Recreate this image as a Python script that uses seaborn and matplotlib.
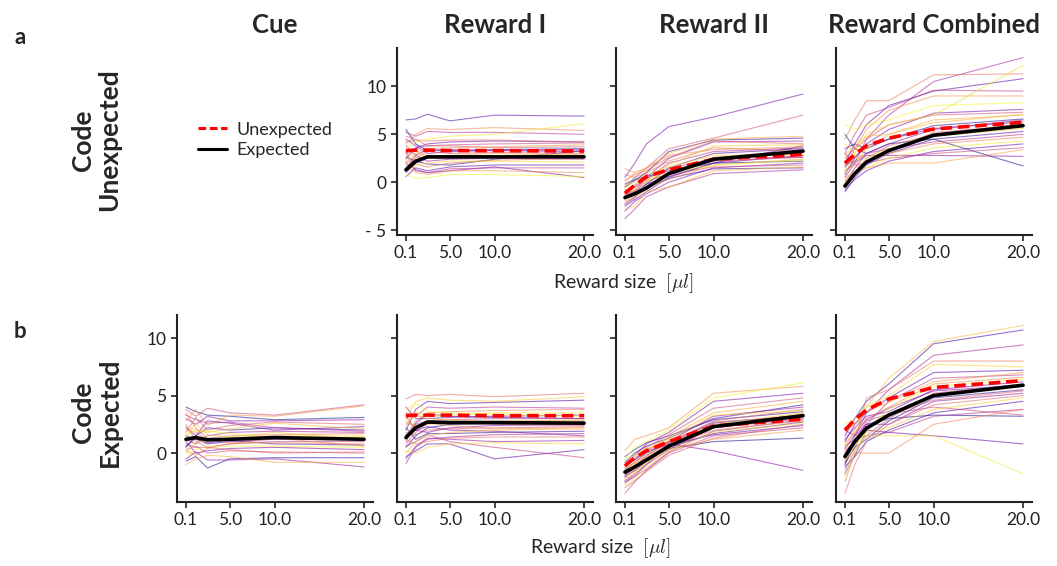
import numpy as np
import pandas as pd
import matplotlib
matplotlib.use("Agg")
import matplotlib.pyplot as plt
import seaborn as sns
from matplotlib.lines import Line2D

sns.set_style("ticks")
plt.rcParams['font.family'] = ['Lato', 'DejaVu Sans']
plt.rcParams['mathtext.fontset'] = 'cm'

# ---------------- data ----------------
reward_sizes = [0.1, 1.2, 2.5, 5.0, 10.0, 20.0]
xtick_vals = [0.1, 5.0, 10.0, 20.0]
xtick_labels = ['0.1', '5.0', '10.0', '20.0']
col_titles = ['Cue', 'Reward I', 'Reward II', 'Reward Combined']
row_titles = ['Code\nUnexpected', 'Code\nExpected']
panel_letters = ['a', 'b']
legend_labels = ['Unexpected', 'Expected']

# Row a (Code Unexpected) single-cell curves
a_reward1 = [
    [6.5, 6.6, 7.1, 6.4, 7.0, 6.9], [5.2, 4.8, 5.3, 5.2, 5.2, 5.0],
    [4.0, 5.0, 5.6, 5.5, 5.7, 5.4], [3.5, 4.2, 4.5, 4.8, 5.0, 6.1],
    [2.5, 3.6, 4.0, 4.2, 4.3, 4.2], [3.0, 3.5, 3.8, 3.9, 4.0, 4.1],
    [2.0, 3.0, 3.5, 3.6, 3.7, 3.9], [5.5, 4.0, 3.3, 3.3, 3.4, 3.5],
    [4.5, 3.8, 3.0, 3.2, 3.3, 3.2], [1.5, 2.5, 3.2, 3.0, 3.1, 3.0],
    [2.8, 3.0, 2.8, 2.8, 2.7, 2.9], [1.0, 2.0, 2.5, 2.5, 2.6, 2.6],
    [3.8, 2.8, 2.2, 2.4, 2.5, 2.4], [2.2, 1.9, 1.6, 2.0, 2.3, 2.5],
    [1.2, 1.8, 2.0, 2.2, 2.2, 2.1], [0.6, 1.5, 1.2, 1.6, 1.8, 1.8],
    [3.2, 1.2, 1.0, 1.4, 1.5, 1.5], [1.8, 1.0, 0.8, 1.2, 1.2, 1.0],
    [0.8, 0.4, 0.5, 0.8, 0.8, 0.6], [2.0, 1.3, 1.0, 1.2, 1.6, 0.5],
    [4.8, 4.5, 3.8, 3.8, 3.6, 3.7], [3.3, 3.3, 2.6, 2.8, 3.0, 2.8],
    [2.6, 2.2, 1.9, 1.8, 2.4, 3.3], [1.4, 2.8, 3.4, 3.4, 3.3, 3.4],
    [4.2, 4.4, 4.3, 4.4, 4.4, 4.2], [2.4, 2.6, 2.5, 2.6, 2.7, 2.7],
]
a_reward2 = [
    [0.5, 2.0, 4.0, 5.8, 6.8, 9.2], [-0.5, 0.5, 1.5, 3.5, 4.6, 7.0],
    [0.0, 1.0, 1.4, 3.0, 4.5, 4.8], [-0.5, 0.2, 1.0, 3.2, 4.4, 4.6],
    [-1.0, -0.3, 0.5, 2.5, 4.2, 4.3], [0.2, 0.8, 1.2, 2.6, 4.3, 4.0],
    [-1.2, -0.8, 0.0, 1.8, 3.8, 3.9], [-1.5, -1.0, -0.2, 1.5, 3.0, 3.5],
    [-0.8, -0.5, 0.3, 2.0, 3.2, 3.6], [-2.0, -1.5, -0.8, 1.0, 2.6, 3.3],
    [-1.8, -1.2, -0.5, 0.8, 2.4, 3.0], [-2.5, -1.8, -1.0, 0.5, 2.0, 2.8],
    [-1.3, -0.8, 0.0, 1.0, 2.2, 2.6], [-2.2, -1.5, -0.6, 0.3, 1.8, 2.4],
    [-0.2, 0.3, 0.6, 1.2, 2.0, 2.2], [-3.0, -2.0, -1.2, 0.0, 1.5, 2.0],
    [-1.0, -0.5, 0.2, 0.8, 1.6, 1.8], [-2.8, -2.5, -1.0, -0.5, 1.2, 1.6],
    [-1.6, -1.2, -0.6, 0.4, 1.4, 1.5], [-3.8, -2.8, -1.5, -0.5, 0.9, 1.3],
    [0.8, 0.5, 1.0, 2.2, 3.6, 3.2], [-0.3, 0.0, 0.8, 1.6, 2.8, 2.9],
    [-2.3, -1.6, -0.2, 0.6, 2.0, 3.8], [-1.4, -0.9, 0.4, 1.4, 2.5, 2.6],
    [1.4, 1.0, 1.5, 2.8, 3.4, 3.7], [-0.6, -0.2, 0.2, 1.0, 1.8, 2.3],
]
a_combined = [
    [0.5, 2.0, 4.5, 7.0, 10.5, 13.0], [4.5, 6.5, 8.5, 8.5, 11.2, 11.3],
    [1.0, 3.0, 5.0, 6.0, 7.0, 12.2], [2.0, 4.0, 6.0, 8.0, 9.5, 10.8],
    [3.0, 5.0, 7.0, 7.8, 9.6, 9.5], [1.5, 3.5, 5.5, 7.5, 9.0, 9.0],
    [6.0, 5.5, 6.0, 6.5, 8.0, 8.3], [0.8, 2.5, 4.0, 5.5, 7.2, 7.6],
    [2.5, 3.5, 4.5, 6.0, 7.0, 7.3], [1.0, 2.0, 3.5, 5.0, 6.5, 7.0],
    [3.5, 4.0, 3.5, 4.5, 5.9, 6.6], [-0.5, 1.5, 3.0, 4.0, 5.5, 6.5],
    [0.2, 1.0, 2.5, 3.8, 5.0, 6.1], [4.0, 3.0, 2.5, 3.5, 4.8, 5.6],
    [-1.0, 0.5, 1.8, 3.0, 4.5, 5.3], [1.8, 2.2, 3.0, 3.5, 4.2, 5.0],
    [0.0, 1.5, 2.0, 3.0, 4.0, 4.7], [2.2, 2.8, 1.5, 2.5, 3.6, 4.3],
    [-0.8, 0.3, 1.2, 2.2, 3.2, 4.0], [3.0, 1.8, 2.0, 2.5, 3.0, 3.6],
    [0.5, 1.0, 1.5, 2.0, 2.0, 3.4], [5.0, 3.5, 3.0, 4.0, 4.5, 1.7],
    [1.2, 2.0, 2.8, 2.8, 2.8, 2.7], [-0.3, 0.8, 2.2, 3.2, 5.2, 5.9],
    [2.8, 3.8, 4.8, 5.0, 6.2, 7.1], [1.6, 2.6, 3.8, 4.5, 5.6, 6.3],
]
# Row b (Code Expected) single-cell curves
b_cue = [
    [3.8, 3.2, 3.9, 3.5, 3.3, 4.2], [2.8, 3.8, 2.4, 3.3, 3.2, 4.1],
    [4.0, 3.6, 3.3, 3.2, 2.9, 3.1], [3.0, 2.5, 3.2, 2.8, 2.8, 2.9],
    [1.8, 3.1, 2.0, 2.4, 2.7, 2.5], [2.3, 2.0, 1.8, 2.1, 2.6, 2.1],
    [0.5, 1.5, 2.2, 2.0, 2.2, 2.0], [1.2, 0.8, 1.5, 1.8, 1.9, 1.8],
    [3.5, 2.2, 1.3, 1.5, 1.6, 1.7], [0.0, 1.0, 1.0, 1.3, 1.5, 1.5],
    [1.5, 1.2, 0.8, 1.0, 1.2, 1.2], [0.8, 0.5, 0.5, 0.8, 1.0, 1.0],
    [2.0, 1.8, 1.2, 0.9, 0.9, 0.8], [-0.2, 0.3, 0.6, 0.6, 0.6, 0.5],
    [1.0, 0.0, 0.2, 0.4, 0.5, 0.3], [0.3, 0.6, 0.0, 0.2, 0.1, 0.0],
    [-1.0, -0.5, -0.2, -0.3, -0.8, -0.8], [-0.7, -0.3, -1.3, -0.5, -0.4, -0.4],
    [-0.5, 0.1, -0.6, -0.6, -0.5, -1.2], [2.5, 1.0, 0.5, 0.3, 0.0, 0.1],
    [1.4, 2.6, 1.6, 1.4, 1.8, 1.2], [0.6, 1.3, 0.9, 1.1, 0.8, 0.7],
    [3.3, 2.9, 2.6, 2.7, 2.2, 1.9], [0.2, -0.2, 0.4, 0.8, 1.3, 0.6],
    [1.6, 1.9, 1.9, 1.7, 1.3, 1.4], [2.2, 1.5, 2.8, 2.6, 2.0, 2.3],
]
b_reward1 = [
    [4.7, 5.1, 5.0, 5.1, 4.9, 5.2], [3.0, 4.5, 4.8, 4.6, 4.5, 4.9],
    [2.0, 3.8, 4.5, 4.3, 4.4, 4.6], [3.5, 3.2, 4.0, 3.9, 4.0, 3.9],
    [1.5, 2.8, 3.5, 3.6, 3.7, 3.8], [2.5, 3.6, 3.2, 3.3, 3.5, 3.5],
    [4.0, 3.0, 3.0, 3.1, 3.2, 3.3], [1.0, 2.5, 2.8, 2.9, 3.0, 3.0],
    [2.8, 2.2, 2.5, 2.7, 2.8, 2.8], [0.5, 1.5, 2.2, 2.5, 2.6, 2.7],
    [3.2, 2.0, 1.8, 2.2, 2.4, 2.5], [1.8, 1.6, 2.0, 2.1, 2.2, 2.3],
    [0.0, 1.0, 1.5, 1.8, 2.0, 2.1], [2.2, 1.2, 1.7, 1.7, 1.8, 1.9],
    [-0.9, 0.5, 1.2, 1.4, 1.6, 1.7], [1.2, 0.8, 1.0, 1.3, 1.4, 1.4],
    [0.2, 0.0, 0.5, 0.8, 0.9, 0.8], [-0.3, 0.2, 0.8, 0.8, -0.5, 0.3],
    [0.6, 1.0, 1.6, 1.0, 0.5, -0.4], [2.6, 2.4, 2.6, 2.4, 2.1, 2.2],
    [3.8, 4.3, 3.6, 3.5, 3.4, 3.2], [1.6, 2.0, 2.3, 2.0, 1.9, 1.5],
    [0.8, 1.8, 2.6, 2.6, 2.5, 2.4], [2.4, 3.3, 3.0, 2.9, 2.7, 2.9],
    [1.4, 2.6, 3.4, 3.2, 3.1, 3.0], [-0.5, 0.6, 1.3, 1.2, 1.0, 1.1],
]
b_reward2 = [
    [0.2, 1.2, 1.5, 2.2, 5.2, 5.8], [-0.5, 0.5, 1.0, 2.0, 4.8, 6.1],
    [-1.0, -0.2, 0.8, 1.8, 4.5, 5.2], [-1.2, -0.5, 0.5, 1.6, 3.9, 4.8],
    [-1.5, -0.8, 0.2, 1.4, 3.5, 4.5], [-0.8, 0.0, 0.6, 1.3, 3.0, 4.2],
    [-2.0, -1.2, -0.2, 1.0, 3.2, 4.0], [-1.8, -1.5, -0.5, 0.8, 2.8, 3.8],
    [-2.2, -1.8, -0.8, 0.5, 2.5, 3.5], [-1.4, -0.8, 0.0, 0.9, 2.6, 3.3],
    [-2.5, -2.0, -1.0, 0.3, 2.2, 3.0], [-1.6, -1.2, -0.4, 0.6, 2.0, 2.8],
    [-2.8, -2.2, -1.2, 0.2, 1.8, 2.6], [-1.0, -0.6, 0.2, 0.7, 1.6, 2.4],
    [-3.5, -2.5, -1.5, 0.0, 1.5, 2.2], [-2.0, -1.6, -0.8, 0.3, 1.2, 2.0],
    [-1.9, -1.3, -0.6, 0.4, 1.0, 1.3], [-2.4, -1.8, -1.0, 0.8, 0.2, -1.5],
    [-3.0, -2.4, -1.6, -0.2, 1.3, 2.5], [-1.3, -0.9, -0.2, 1.1, 2.4, 3.1],
    [-0.3, 0.3, 0.9, 1.5, 2.9, 3.6], [-2.6, -2.0, -1.4, 0.1, 1.9, 2.9],
    [-1.7, -1.0, -0.3, 0.9, 2.3, 3.4], [-0.6, -0.2, 0.4, 1.2, 3.3, 3.7],
    [-2.1, -1.5, -0.7, 0.5, 1.7, 2.7], [-1.1, -0.5, 0.3, 1.0, 2.7, 3.2],
]
b_combined = [
    [0.5, 2.0, 4.0, 6.5, 9.7, 11.1], [1.5, 3.0, 4.5, 6.0, 9.5, 10.7],
    [-0.5, 1.5, 3.5, 5.5, 8.5, 9.4], [0.0, 1.0, 4.8, 5.5, 8.0, 8.0],
    [2.5, 3.0, 4.0, 5.0, 7.7, 7.5], [1.0, 2.5, 3.5, 4.8, 7.0, 7.2],
    [-1.0, 0.5, 2.5, 4.5, 6.5, 6.8], [0.8, 1.8, 3.0, 4.0, 6.0, 6.6],
    [-2.0, 0.0, 2.0, 3.8, 5.8, 6.4], [1.2, 2.2, 3.2, 3.6, 5.5, 6.2],
    [-1.5, 0.2, 1.5, 3.0, 5.2, 6.0], [0.3, 1.0, 2.2, 3.2, 5.0, 5.8],
    [-0.8, 0.5, 1.2, 2.8, 4.8, 5.5], [2.0, 1.5, 2.5, 2.5, 4.5, 5.2],
    [-3.5, -1.0, 1.0, 2.5, 4.2, 5.0], [-0.3, 0.8, 1.8, 2.2, 3.8, 4.8],
    [-1.2, -0.3, 1.0, 2.0, 3.5, 4.5], [0.6, 1.2, 1.5, 1.8, 3.2, 3.8],
    [-2.5, 0.0, 0.0, 0.0, 2.5, 3.8], [-0.6, 0.3, 1.5, 1.5, 1.5, -1.8],
    [-1.8, -0.2, 2.0, 1.8, 1.5, 0.8], [0.2, 1.0, 2.8, 3.4, 4.0, 3.3],
    [1.8, 2.6, 3.6, 4.4, 6.2, 7.0], [-1.0, 1.2, 2.5, 3.0, 3.3, 3.2],
    [0.4, 1.6, 2.9, 3.9, 5.4, 5.9], [-0.2, 1.1, 2.3, 3.3, 4.6, 5.4],
]

# Population mean curves (Unexpected = red dashed, Expected = black)
a_reward1_unexp = [3.3, 3.35, 3.35, 3.3, 3.3, 3.25]
a_reward1_exp = [1.3, 2.2, 2.65, 2.65, 2.65, 2.65]
a_reward2_unexp = [-1.15, -0.3, 0.6, 1.3, 2.4, 2.9]
a_reward2_exp = [-1.6, -1.2, -0.6, 0.9, 2.4, 3.25]
a_combined_unexp = [2.0, 2.9, 3.8, 4.6, 5.55, 6.25]
a_combined_exp = [-0.4, 0.9, 2.1, 3.3, 4.9, 5.9]
b_cue_exp = [1.2, 1.35, 1.15, 1.2, 1.35, 1.2]
b_reward1_unexp = [3.25, 3.3, 3.3, 3.3, 3.25, 3.25]
b_reward1_exp = [1.35, 2.2, 2.7, 2.65, 2.65, 2.6]
b_reward2_unexp = [-1.1, -0.4, 0.2, 1.0, 2.35, 2.95]
b_reward2_exp = [-1.65, -1.2, -0.6, 0.6, 2.3, 3.25]
b_combined_unexp = [2.0, 2.9, 3.75, 4.7, 5.7, 6.3]
b_combined_exp = [-0.3, 1.0, 2.15, 3.3, 5.0, 5.9]

panels = {
    (0, 1): (a_reward1, a_reward1_unexp, a_reward1_exp),
    (0, 2): (a_reward2, a_reward2_unexp, a_reward2_exp),
    (0, 3): (a_combined, a_combined_unexp, a_combined_exp),
    (1, 0): (b_cue, None, b_cue_exp),
    (1, 1): (b_reward1, b_reward1_unexp, b_reward1_exp),
    (1, 2): (b_reward2, b_reward2_unexp, b_reward2_exp),
    (1, 3): (b_combined, b_combined_unexp, b_combined_exp),
}

# ---------------- figure ----------------
W, H = 1057, 566
fig = plt.figure(figsize=(W / 100, H / 100), dpi=100)

col_left = [177, 397, 616, 836]
ax_w = 196
row_top = [48, 315]
ax_h = 187
row_ylim = [(-5.5, 14.0), (-4.25, 12.0)]

axes = {}
for r in range(2):
    for c in range(4):
        ax = fig.add_axes([col_left[c] / W, 1 - (row_top[r] + ax_h) / H, ax_w / W, ax_h / H])
        axes[(r, c)] = ax

for k, ((r, c), ax) in enumerate(axes.items()):
    if (r, c) not in panels:
        ax.axis('off')
        continue
    cells, unexp, exp = panels[(r, c)]
    n = len(cells)
    rows = []
    for i, cell in enumerate(cells):
        # mix colour order so hue is not tied to vertical position
        hue_rank = (i * 7 + 3 * k) % n
        for xv, yv in zip(reward_sizes, cell):
            rows.append({'x': xv, 'y': yv, 'cell': i, 'hue': hue_rank})
    df = pd.DataFrame(rows)
    sns.lineplot(data=df, x='x', y='y', hue='hue', units='cell', estimator=None,
                 palette='plasma', hue_norm=(0, n - 1), legend=False,
                 linewidth=0.8, alpha=0.55, ax=ax)
    if unexp is not None:
        sns.lineplot(x=reward_sizes, y=unexp, color='red', linewidth=2.6,
                     ax=ax).lines[-1].set_dashes([3.2, 1.6])
    sns.lineplot(x=reward_sizes, y=exp, color='black', linewidth=2.6, ax=ax)

    ax.set_xlim(-0.9, 21.0)
    ax.set_ylim(*row_ylim[r])
    ax.set_xticks(xtick_vals)
    ax.set_xticklabels(xtick_labels)
    if r == 0:
        ax.set_yticks([-5, 0, 5, 10])
    else:
        ax.set_yticks([0, 5, 10])
    if (r == 0 and c == 1) or (r == 1 and c == 0):
        if r == 0:
            ax.set_yticklabels(['- 5', '0', '5', '10'])
        else:
            ax.set_yticklabels(['0', '5', '10'])
    else:
        ax.set_yticklabels([])
    ax.set_xlabel('')
    ax.set_ylabel('')
    ax.tick_params(labelsize=12.5, length=4, width=1.2, colors='#222222')
    for sp in ['left', 'bottom']:
        ax.spines[sp].set_linewidth(1.5)
        ax.spines[sp].set_color('#222222')
    sns.despine(ax=ax)

# column titles
for c, t in enumerate(col_titles):
    fig.text((col_left[c] + ax_w / 2) / W, 1 - 25 / H, t, ha='center', va='center',
             fontsize=18.5, fontweight='bold')

# row titles
fig.text(96 / W, 1 - 140 / H, row_titles[0], rotation=90, ha='center', va='center',
         fontsize=19, fontweight='bold', linespacing=1.15)
fig.text(96 / W, 1 - 412 / H, row_titles[1], rotation=90, ha='center', va='center',
         fontsize=19, fontweight='bold', linespacing=1.15)

# panel letters
fig.text(20 / W, 1 - 37 / H, panel_letters[0], ha='center', va='center', fontsize=16, fontweight='bold')
fig.text(20 / W, 1 - 331 / H, panel_letters[1], ha='center', va='center', fontsize=16, fontweight='bold')

# x labels
fig.text(623 / W, 1 - 283 / H, r'Reward size  $[\mu l]$', ha='center', va='center', fontsize=14)
fig.text(600 / W, 1 - 548 / H, r'Reward size  $[\mu l]$', ha='center', va='center', fontsize=14)

# legend
handles = [Line2D([], [], color='red', lw=2.2, dashes=[2.5, 1.2]),
           Line2D([], [], color='black', lw=2.2)]
fig.legend(handles, legend_labels, loc='center left',
           bbox_to_anchor=(182 / W, 1 - 140 / H), frameon=False, fontsize=13,
           handlelength=1.6, handletextpad=0.5, labelspacing=0.25)

fig.savefig('out.png', dpi=100)
